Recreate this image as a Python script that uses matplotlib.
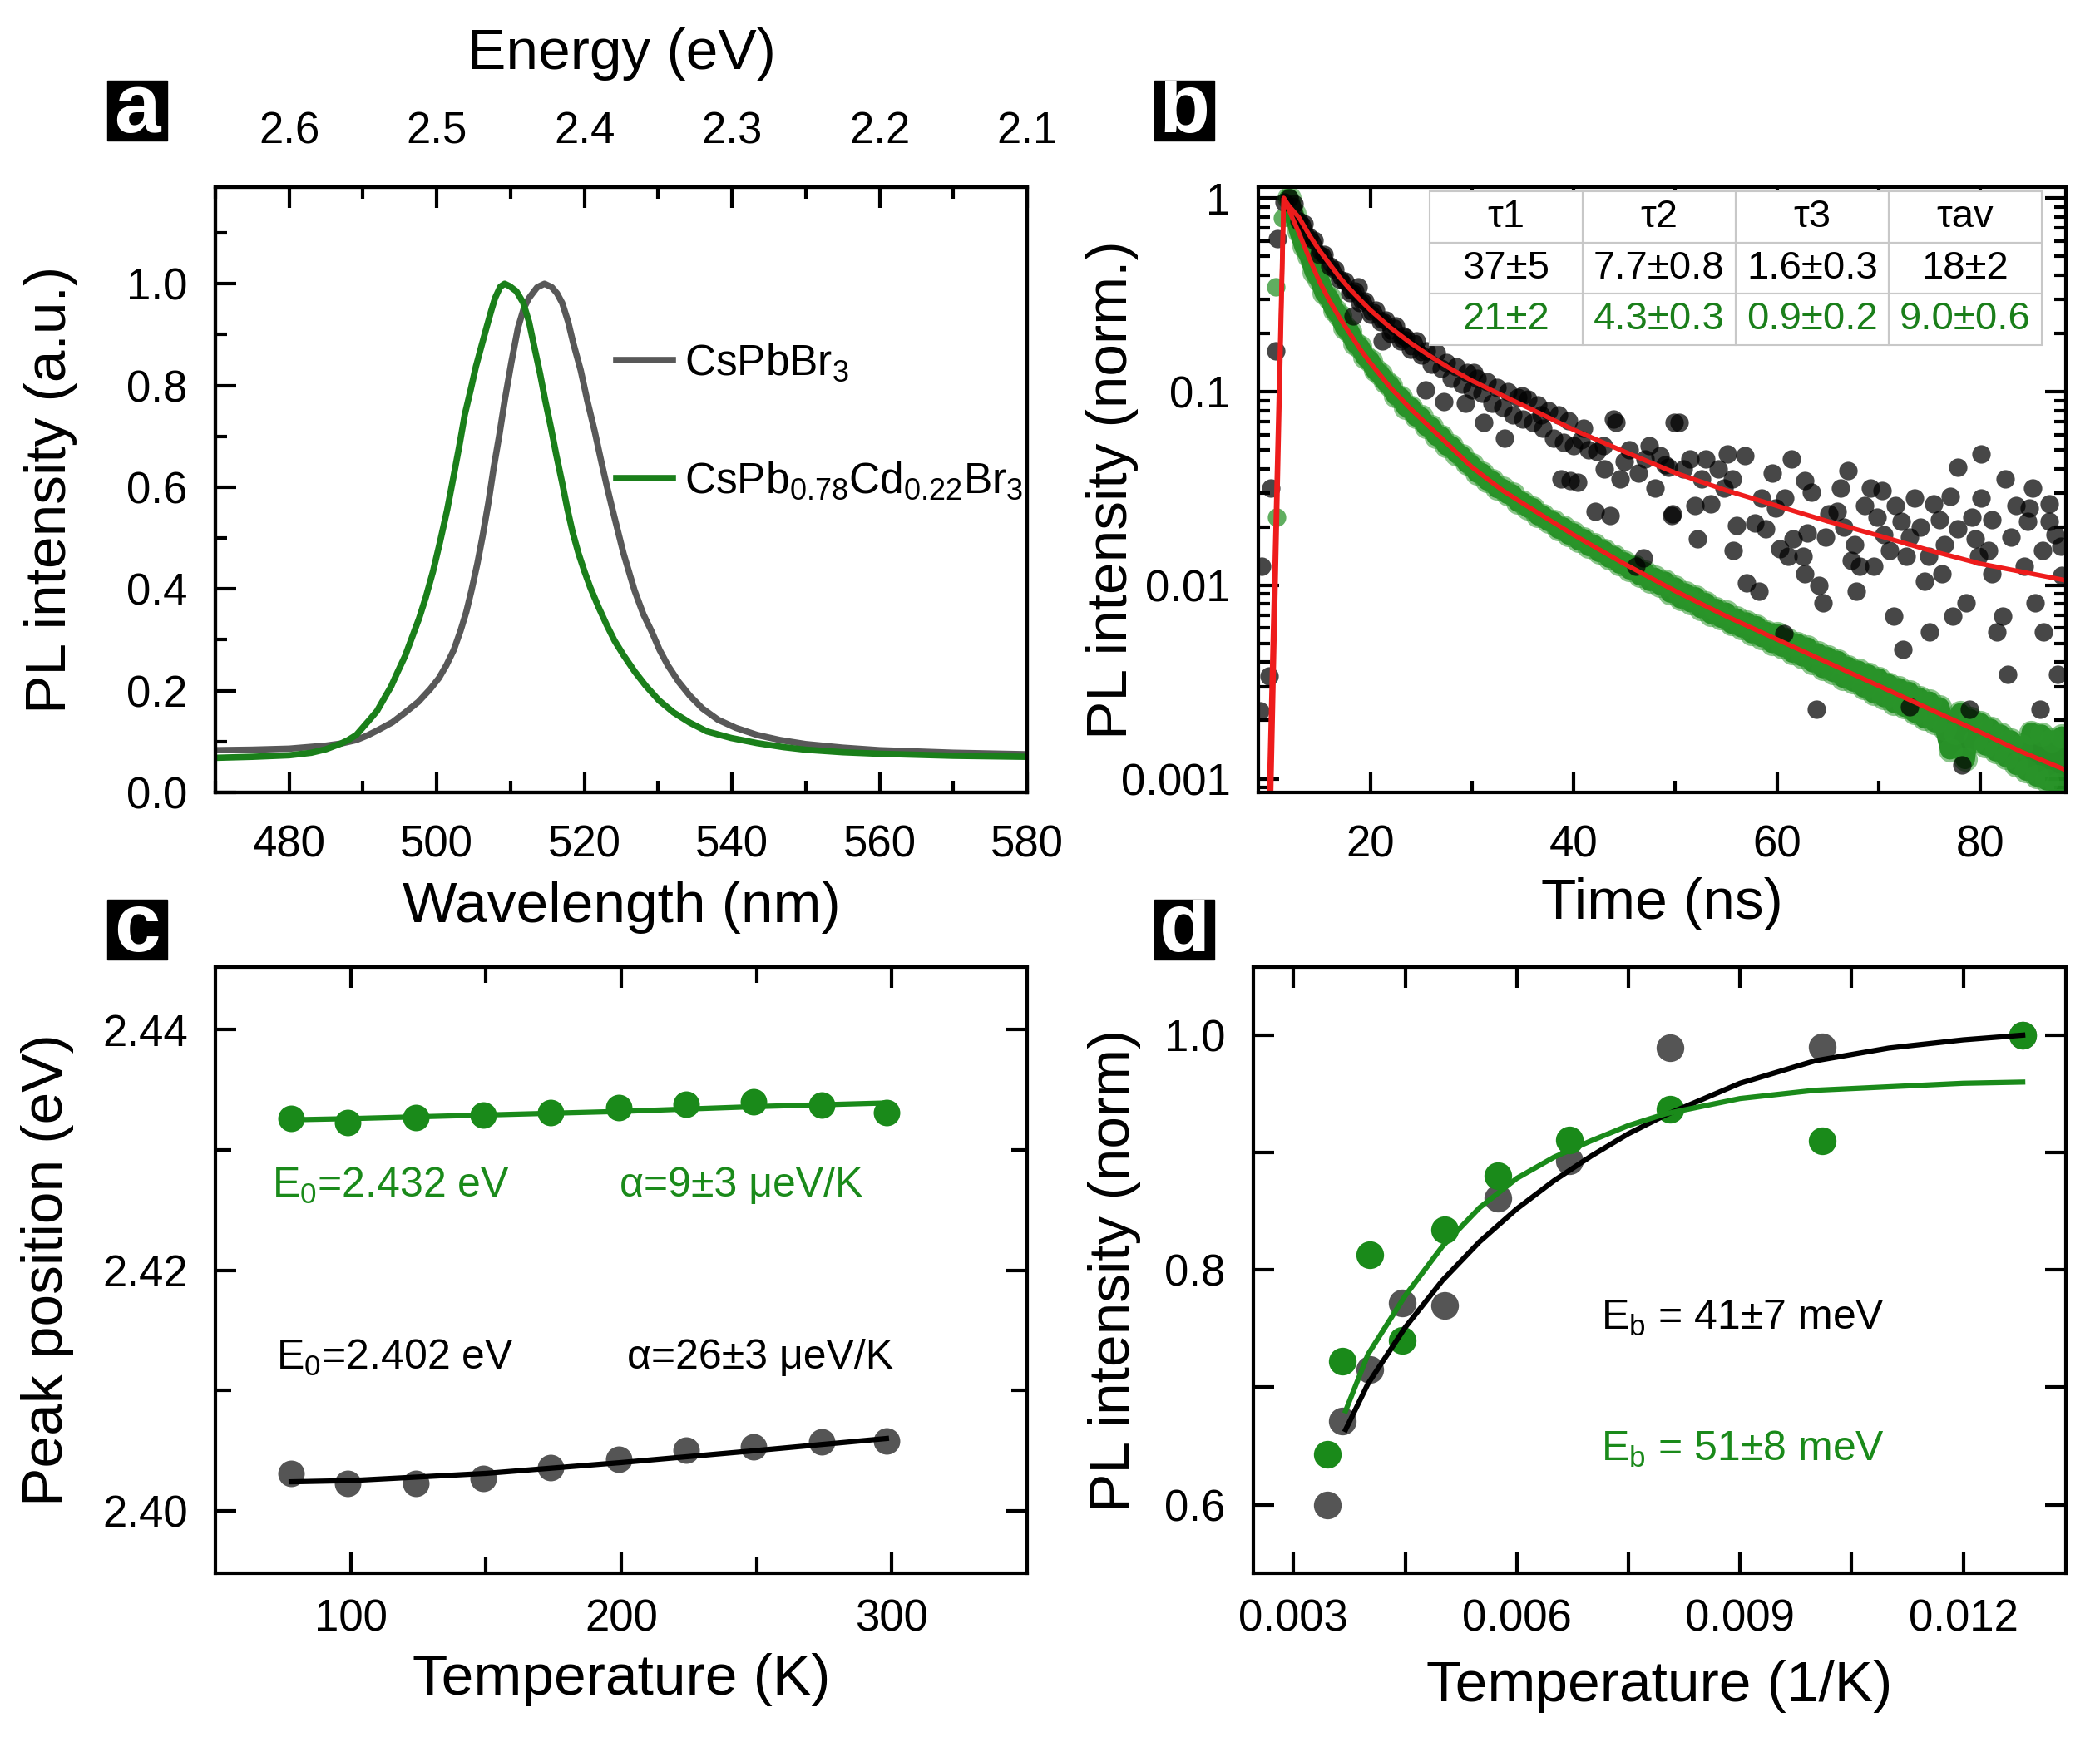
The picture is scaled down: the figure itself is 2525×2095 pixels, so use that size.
import numpy as np
import matplotlib
matplotlib.use("Agg")
import matplotlib.pyplot as plt
from matplotlib.ticker import MultipleLocator, FixedLocator, FixedFormatter, LogLocator, NullFormatter
from matplotlib.patches import Rectangle

plt.rcParams['font.family'] = ['Liberation Sans', 'DejaVu Sans']
plt.rcParams['mathtext.fontset'] = 'custom'
plt.rcParams['mathtext.rm'] = 'Liberation Sans'
plt.rcParams['mathtext.it'] = 'Liberation Sans:italic'
plt.rcParams['mathtext.default'] = 'regular'

GREEN = '#1a7f1a'
GRAY = '#585858'
RED = '#ee1c1c'

# ---------------- (a) PL spectra ----------------
wl_pure = [470, 475, 480, 485, 487, 489.1, 490.6, 492.1, 494.0, 495.7, 497.5, 499.1, 500.3, 501.3,
           502.3, 503.2, 504.0, 504.7, 505.5, 506.2, 507.0, 507.7, 508.5, 509.2, 510.1, 511.0,
           511.8, 512.5, 513.6, 514.6, 515.6, 516.3, 517.0, 517.8, 518.5, 519.5, 520.4, 521.4,
           522.3, 523.0, 523.8, 525.3, 526.8, 528.0, 529.1, 530.2, 531.3, 532.8, 534.3, 536.0,
           538.1, 540.5, 543.4, 546.5, 550, 555, 560, 570, 580]
pl_pure = [0.083, 0.084, 0.086, 0.092, 0.096, 0.103, 0.112, 0.123, 0.138, 0.157, 0.178, 0.203, 0.225, 0.25,
           0.28, 0.317, 0.355, 0.397, 0.45, 0.503, 0.57, 0.637, 0.705, 0.77, 0.845, 0.913,
           0.952, 0.972, 0.993, 1.0, 0.993, 0.981, 0.962, 0.925, 0.883, 0.83, 0.77, 0.71,
           0.65, 0.605, 0.557, 0.47, 0.397, 0.35, 0.317, 0.28, 0.25, 0.217, 0.19, 0.165,
           0.143, 0.127, 0.113, 0.103, 0.095, 0.088, 0.083, 0.078, 0.075]
wl_cd = [470, 475, 480, 483, 485, 487, 488, 489.1, 490.9, 491.9, 492.8, 493.8, 494.7, 495.7, 496.6,
         497.6, 498.5, 499.5, 500.4, 501.4, 502.3, 503.1, 503.8, 504.6, 505.3, 506.1, 506.8,
         507.4, 507.9, 508.6, 509.2, 509.9, 510.8, 511.7, 512.5, 513.2, 514.0, 514.7, 515.5,
         516.2, 517.0, 517.7, 518.4, 519.2, 520.0, 520.8, 521.9, 523.0, 524.1, 525.3, 526.8,
         528.3, 530.1, 532.1, 534.3, 536.6, 539.9, 543.4, 547, 550, 555, 560, 570, 580]
pl_cd = [0.068, 0.070, 0.073, 0.078, 0.085, 0.096, 0.103, 0.113, 0.143, 0.16, 0.183, 0.208, 0.237, 0.268, 0.303,
         0.342, 0.383, 0.435, 0.49, 0.555, 0.623, 0.685, 0.743, 0.792, 0.837, 0.88, 0.917,
         0.948, 0.972, 0.994, 1.0, 0.995, 0.985, 0.963, 0.925, 0.877, 0.823, 0.77, 0.715,
         0.663, 0.608, 0.557, 0.512, 0.47, 0.435, 0.403, 0.365, 0.33, 0.298, 0.27, 0.238,
         0.21, 0.181, 0.157, 0.137, 0.12, 0.107, 0.097, 0.089, 0.084, 0.079, 0.076, 0.072, 0.070]
wl_ticks = [480, 500, 520, 540, 560, 580]
energy_labels = ['2.6', '2.5', '2.4', '2.3', '2.2', '2.1']

# ---------------- (b) TRPL decays (log10 of normalized intensity) ----------------
green_t = np.arange(12.0, 88.5, 0.5)
green_log = [0.00, -0.08, -0.17, -0.25, -0.30, -0.38, -0.42, -0.49, -0.52, -0.58,
             -0.61, -0.67, -0.69, -0.75, -0.77, -0.82, -0.84, -0.89, -0.91, -0.95,
             -0.97, -1.02, -1.03, -1.08, -1.08, -1.13, -1.13, -1.18, -1.18, -1.23,
             -1.23, -1.28, -1.28, -1.32, -1.33, -1.37, -1.38, -1.42, -1.42, -1.46,
             -1.46, -1.50, -1.50, -1.53, -1.53, -1.57, -1.57, -1.60, -1.60, -1.64,
             -1.64, -1.67, -1.67, -1.71, -1.70, -1.74, -1.73, -1.77, -1.76, -1.80,
             -1.79, -1.83, -1.82, -1.86, -1.85, -1.89, -1.88, -1.92, -1.90, -1.95,
             -1.93, -1.98, -1.96, -2.00, -1.98, -2.04, -2.01, -2.07, -2.04, -2.09,
             -2.06, -2.12, -2.09, -2.15, -2.12, -2.17, -2.14, -2.20, -2.17, -2.22,
             -2.19, -2.25, -2.21, -2.27, -2.24, -2.30, -2.25, -2.32, -2.28, -2.35,
             -2.30, -2.37, -2.32, -2.40, -2.35, -2.43, -2.37, -2.45, -2.39, -2.48,
             -2.42, -2.50, -2.44, -2.53, -2.46, -2.56, -2.48, -2.58, -2.51, -2.61,
             -2.53, -2.63, -2.55, -2.66, -2.58, -2.69, -2.60, -2.71, -2.63, -2.74,
             -2.85, -2.76, -2.66, -2.90, -2.69, -2.80, -2.71, -2.83, -2.74, -2.86,
             -2.77, -2.89, -2.80, -2.93, -2.83, -2.96, -2.76, -2.99, -2.77, -3.01,
             -2.80, -3.03, -2.78]
green_rise_t = [10.7, 10.8, 11.4]
green_rise_log = [-0.46, -1.65, -0.10]

black_t_early = np.arange(12.5, 40.5, 0.5)
black_log_early = [-0.03, -0.12, -0.13, -0.20, -0.22, -0.29, -0.29, -0.35, -0.37, -0.42,
                   -0.43, -0.49, -0.48, -0.54, -0.53, -0.60, -0.58, -0.64, -0.63, -0.70,
                   -0.66, -0.74, -0.72, -0.78, -0.74, -0.81, -0.79, -0.86, -0.80, -0.88,
                   -0.85, -0.93, -0.87, -0.96, -0.90, -0.99, -0.93, -1.01, -0.95, -1.06,
                   -0.98, -1.08, -1.00, -1.12, -1.03, -1.14, -1.04, -1.16, -1.07, -1.19,
                   -1.10, -1.24, -1.12, -1.26, -1.15, -1.28]
black_t_late = [9.2, 9.35, 10.1, 10.2, 10.7, 10.9, 11.5, 12.0,
                18.3, 18.8, 21.2, 23.2, 25.4, 27.2, 29.4, 30.2, 31.2, 33.2, 34.9, 36.8, 38.8, 39.7,
                40.4, 40.7, 41.0, 41.5, 42.1, 42.3, 42.9, 43.0, 43.6, 43.9, 44.2, 44.6, 45.0, 45.5,
                46.1, 46.4, 46.9, 47.0, 47.4, 48.0, 48.5, 49.0, 49.3, 49.6, 49.9,
                50.4, 49.7, 51.4, 52.2, 53.0, 51.9, 53.5, 55.1, 56.8, 55.7, 56.0, 57.0, 58.2, 57.8,
                59.5, 58.9, 60.3, 61.4, 61.1, 61.6, 62.7, 63.4, 63.0, 62.6, 62.7, 64.1, 64.5, 63.9,
                65.1, 66.2, 67.0, 65.9, 67.6, 67.3, 67.8, 68.1, 69.5, 68.6, 69.2, 70.3, 70.5, 71.1,
                71.6, 71.5, 72.4, 72.2, 72.7, 73.5, 74.1, 74.5, 75.0, 74.9, 75.4, 76.2, 76.5, 77.0,
                77.3, 77.8, 77.8, 78.6, 78.9, 79.5, 79.2, 80.1, 80.1, 80.8, 81.1, 81.1, 81.6, 82.2,
                82.4, 82.7, 83.5, 84.3, 84.6, 85.1, 85.4, 85.9, 86.2, 86.1, 86.8, 86.8, 87.3, 87.6,
                78.2, 73.0, 60.7,
                50.8, 52.6, 54.2, 54.8, 55.6, 58.5, 59.9, 60.8, 64.8, 66.6, 69.8, 73.0, 76.0, 79.8,
                83.0, 84.8, 87.9, 88.0]
black_log_late = [-2.65, -1.90, -2.47, -1.50, -0.79, -0.21, -0.02, 0.0,
                  -0.61, -0.46, -0.74, -0.71, -0.99, -1.05, -1.06, -0.90, -1.16, -1.24, -1.02, -1.12, -1.45, -1.46,
                  -1.47, -1.25, -1.19, -1.30, -1.62, -1.31, -1.28, -1.40, -1.64, -1.14, -1.16, -1.45, -1.36, -1.30,
                  -1.90, -1.42, -1.86, -1.35, -1.28, -1.50, -1.33, -1.38, -1.39, -1.64, -1.16,
                  -1.16, -1.63, -1.35, -1.76, -1.35, -1.59, -1.58, -1.32, -1.33, -1.82, -1.69, -1.99, -2.03, -1.68,
                  -1.42, -1.71, -1.81, -1.35, -1.85, -1.76, -1.46, -1.52, -1.73, -1.85, -1.94, -2.00, -2.09, -2.64,
                  -1.63, -1.50, -1.41, -1.62, -1.79, -1.87, -2.03, -1.90, -1.90, -1.59, -1.50, -1.51, -1.74, -1.82,
                  -1.59, -2.16, -2.33, -1.67, -1.85, -1.55, -1.70, -1.98, -2.24, -1.85, -1.58, -1.94, -1.79, -1.54,
                  -2.16, -1.39, -1.71, -2.09, -2.64, -1.76, -1.65, -1.32, -1.55, -1.82, -1.66, -1.94, -2.24, -2.16,
                  -1.45, -2.46, -1.59, -1.90, -1.67, -1.50, -2.09, -2.64, -2.24, -1.82, -1.58, -1.67, -1.74, -2.46,
                  -2.93, -2.63, -2.25,
                  -1.40, -1.45, -1.40, -1.50, -1.45, -1.55, -1.60, -1.55, -1.75, -1.70, -1.65, -1.75, -1.66, -1.85,
                  -1.75, -1.60, -1.80, -1.95]

fit_black_t = [10.0, 11.5, 12, 13, 14, 15, 16, 17, 18, 19, 20, 22, 24, 26, 28, 30, 33, 36, 40,
               45, 50, 55, 60, 65, 70, 75, 80, 84, 88.4]
fit_black_log = [-3.2, 0.0, -0.04, -0.10, -0.19, -0.27, -0.34, -0.41, -0.47, -0.525, -0.578, -0.67,
                 -0.75, -0.82, -0.885, -0.943, -1.02, -1.095, -1.197, -1.31, -1.42, -1.51, -1.59,
                 -1.67, -1.744, -1.82, -1.889, -1.93, -1.975]
fit_green_t = [10.2, 11.5, 12, 13, 14, 15, 16, 17, 18, 19, 20, 22, 24, 26, 28, 30, 33, 36, 40,
               45, 50, 55, 60, 65, 70, 75, 80, 84, 88.4]
fit_green_log = [-3.2, 0.0, -0.06, -0.18, -0.31, -0.43, -0.53, -0.62, -0.70, -0.78, -0.85, -0.98,
                 -1.09, -1.19, -1.29, -1.39, -1.51, -1.61, -1.74, -1.89, -2.03, -2.16, -2.28,
                 -2.40, -2.52, -2.64, -2.76, -2.86, -2.955]

tau_labels = ['\u03c41', '\u03c42', '\u03c43', '\u03c4av']
tau_pure = ['37\u00b15', '7.7\u00b10.8', '1.6\u00b10.3', '18\u00b12']
tau_cd = ['21\u00b12', '4.3\u00b10.3', '0.9\u00b10.2', '9.0\u00b10.6']

# ---------------- (c) peak position vs T ----------------
temp_k = [78, 99, 124, 149, 174, 199, 224, 249, 274, 298]
peak_pure = [2.4031, 2.4023, 2.4023, 2.4027, 2.4036, 2.4043, 2.4050, 2.4053, 2.4057, 2.4058]
peak_cd = [2.4326, 2.4323, 2.4327, 2.4329, 2.4331, 2.4335, 2.4338, 2.4340, 2.4337, 2.4331]
fit_temp = [78, 100, 150, 200, 250, 298]
fit_peak_pure = [2.4024, 2.4025, 2.4031, 2.4040, 2.4050, 2.4060]
fit_peak_cd = [2.4325, 2.4326, 2.4329, 2.4332, 2.4336, 2.4339]

# ---------------- (d) integrated PL vs 1/T ----------------
inv_t = [0.00345, 0.00366, 0.00402, 0.00446, 0.00503, 0.00575, 0.00671, 0.00806, 0.0101, 0.0128]
int_pure = [0.600, 0.671, 0.715, 0.772, 0.770, 0.861, 0.893, 0.989, 0.990, 1.000]
int_cd = [0.643, 0.722, 0.813, 0.740, 0.834, 0.880, 0.911, 0.937, 0.910, 1.000]
fit_inv_t = [0.0037, 0.004, 0.0045, 0.005, 0.0055, 0.006, 0.0065, 0.007, 0.0075, 0.008, 0.009,
             0.010, 0.011, 0.012, 0.0128]
fit_int_pure = [0.664, 0.703, 0.751, 0.791, 0.824, 0.852, 0.876, 0.897, 0.916, 0.932, 0.959,
                0.978, 0.989, 0.996, 1.0]
fit_int_cd = [0.680, 0.728, 0.778, 0.820, 0.853, 0.878, 0.896, 0.910, 0.923, 0.933, 0.946,
              0.953, 0.956, 0.959, 0.960]

W, H = 2525, 2095
fig = plt.figure(figsize=(W / 100, H / 100), dpi=100)

TICK_FS = 38
LABEL_FS = 50
TEXT_FS = 36


def box(x0, y0, w, h):
    return [x0 / W, 1 - (y0 + h) / H, w / W, h / H]


def style(ax, pad=24):
    for s in ax.spines.values():
        s.set_linewidth(3)
    ax.tick_params(which='both', direction='in', width=3, labelsize=TICK_FS, pad=pad)
    ax.tick_params(which='major', length=18)
    ax.tick_params(which='minor', length=10)


ax_a = fig.add_axes(box(259, 225, 976, 728))
ax_b = fig.add_axes(box(1513, 225, 971, 728))
ax_c = fig.add_axes(box(259, 1163, 976, 729))
ax_d = fig.add_axes(box(1507, 1163, 977, 729))

# ---- a ----
ax_a.plot(wl_pure, pl_pure, color=GRAY, lw=5.5, label='CsPbBr$_3$')
ax_a.plot(wl_cd, pl_cd, color=GREEN, lw=5.5, label='CsPb$_{0.78}$Cd$_{0.22}$Br$_3$')
ax_a.set_xlim(470, 580)
ax_a.set_ylim(0, 1.19)
ax_a.xaxis.set_major_locator(FixedLocator(wl_ticks))
ax_a.xaxis.set_minor_locator(MultipleLocator(10))
ax_a.yaxis.set_major_locator(MultipleLocator(0.2))
ax_a.yaxis.set_minor_locator(MultipleLocator(0.1))
ax_a.yaxis.set_major_formatter(matplotlib.ticker.FormatStrFormatter('%.1f'))
style(ax_a)
ax_a.tick_params(axis='x', pad=28)
ax_a.tick_params(which='both', right=False, top=False)
ax_a.set_xlabel('Wavelength (nm)', fontsize=LABEL_FS)
ax_a.set_ylabel('PL intensity (a.u.)', fontsize=LABEL_FS)
ax_a.xaxis.set_label_coords(0.5, -0.145)
ax_a.yaxis.set_label_coords(-0.17, 0.5)
ax_a.legend(loc='upper left', bbox_to_anchor=(0.494, 0.743), frameon=False, fontsize=37,
            handlelength=1.33, handletextpad=0.27, labelspacing=1.8, borderpad=0, borderaxespad=0)

ax_top = ax_a.twiny()
ax_top.set_xlim(470, 580)
ax_top.xaxis.set_major_locator(FixedLocator(wl_ticks))
ax_top.xaxis.set_major_formatter(FixedFormatter(energy_labels))
ax_top.xaxis.set_minor_locator(MultipleLocator(10))
style(ax_top)
ax_top.tick_params(axis='x', pad=30)
ax_top.set_xlabel('Energy (eV)', fontsize=LABEL_FS, labelpad=36)

# ---- b ----
green_i = 10 ** np.array(green_log)
black_i_early = 10 ** np.array(black_log_early)
# dense sampling: overlapping points merge into a band
ax_b.plot(green_t, green_i, '-', color='#138313', alpha=0.92, lw=17, solid_joinstyle='round',
          solid_capstyle='round')
ax_b.plot(green_t, green_i, 'o', color='#2a962a', alpha=0.55, ms=21, mec='none')
ax_b.plot(green_rise_t, 10 ** np.array(green_rise_log), 'o', color='#1c8c1c', alpha=0.7, ms=16, mec='none')
ax_b.plot(black_t_early[:26], black_i_early[:26], '-', color='#111111', alpha=0.8, lw=11,
          solid_joinstyle='round', solid_capstyle='round')
ax_b.plot(black_t_early, black_i_early, 'o', color='black', alpha=0.72, ms=16, mec='none')
ax_b.plot(black_t_late, 10 ** np.array(black_log_late), 'o', color='black', alpha=0.72, ms=16, mec='none')
ax_b.plot(fit_black_t, 10 ** np.array(fit_black_log), color=RED, lw=4)
ax_b.plot(fit_green_t, 10 ** np.array(fit_green_log), color=RED, lw=4)
ax_b.set_yscale('log')
ax_b.set_xlim(9.0, 88.4)
ax_b.set_ylim(8.5e-4, 1.14)
ax_b.xaxis.set_major_locator(MultipleLocator(20))
ax_b.xaxis.set_minor_locator(FixedLocator([30, 50, 70]))
ax_b.yaxis.set_major_locator(FixedLocator([0.001, 0.01, 0.1, 1]))
ax_b.yaxis.set_major_formatter(FixedFormatter(['0.001', '0.01', '0.1', '1']))
ax_b.yaxis.set_minor_locator(LogLocator(base=10, subs=np.arange(2, 10)))
ax_b.yaxis.set_minor_formatter(NullFormatter())
style(ax_b, pad=24)
ax_b.tick_params(axis='x', pad=28)
ax_b.tick_params(which='both', top=True, right=True)
ax_b.set_xlabel('Time (ns)', fontsize=LABEL_FS)
ax_b.set_ylabel('PL intensity (norm.)', fontsize=LABEL_FS)
ax_b.xaxis.set_label_coords(0.5, -0.14)
ax_b.yaxis.set_label_coords(-0.148, 0.5)

tab = ax_b.table(cellText=[tau_pure, tau_cd], colLabels=tau_labels, cellLoc='center',
                 bbox=[0.212, 0.739, 0.758, 0.254], zorder=5)
tab.auto_set_font_size(False)
tab.set_fontsize(34)
for (r, c), cell in tab.get_celld().items():
    cell.set_edgecolor('#c8c8c8')
    cell.set_linewidth(1.5)
    cell.set_facecolor('white')
    if r == 2:
        cell.get_text().set_color(GREEN)

# ---- c ----
ax_c.plot(temp_k, peak_pure, 'o', color='#555555', ms=23, mec='none')
ax_c.plot(fit_temp, fit_peak_pure, color='black', lw=4.5)
ax_c.plot(temp_k, peak_cd, 'o', color='#1a8a1a', ms=23, mec='none')
ax_c.plot(fit_temp, fit_peak_cd, color='#1a8a1a', lw=4.5)
ax_c.set_xlim(50, 350)
ax_c.set_ylim(2.3948, 2.4452)
ax_c.xaxis.set_major_locator(FixedLocator([100, 200, 300]))
ax_c.xaxis.set_minor_locator(FixedLocator([150, 250]))
ax_c.yaxis.set_major_locator(FixedLocator([2.40, 2.42, 2.44]))
ax_c.yaxis.set_major_formatter(matplotlib.ticker.FormatStrFormatter('%.2f'))
ax_c.yaxis.set_minor_locator(FixedLocator([2.41, 2.43]))
style(ax_c)
ax_c.tick_params(which='both', top=True, right=True)
ax_c.tick_params(which='minor', length=14)
ax_c.tick_params(axis='x', pad=22)
ax_c.set_xlabel('Temperature (K)', fontsize=LABEL_FS)
ax_c.set_ylabel('Peak position (eV)', fontsize=LABEL_FS)
ax_c.xaxis.set_label_coords(0.5, -0.132)
ax_c.yaxis.set_label_coords(-0.174, 0.5)
ax_c.text(71, 2.427, 'E$_0$=2.432 eV', color='#1a8a1a', fontsize=TEXT_FS, va='center')
ax_c.text(199.5, 2.427, '\u03b1=9\u00b13 \u03bceV/K', color='#1a8a1a', fontsize=TEXT_FS, va='center')
ax_c.text(72.5, 2.4127, 'E$_0$=2.402 eV', color='black', fontsize=TEXT_FS, va='center')
ax_c.text(202, 2.4127, '\u03b1=26\u00b13 \u03bceV/K', color='black', fontsize=TEXT_FS, va='center')

# ---- d ----
ax_d.plot(inv_t, int_pure, 'o', color='#555555', ms=24, mec='none')
ax_d.plot(inv_t, int_cd, 'o', color='#1a8a1a', ms=24, mec='none')
ax_d.plot(fit_inv_t, fit_int_pure, color='black', lw=4.5)
ax_d.plot(fit_inv_t, fit_int_cd, color='#1a8a1a', lw=4.5)
ax_d.set_xlim(0.00246, 0.01338)
ax_d.set_ylim(0.5417, 1.058)
ax_d.xaxis.set_major_locator(FixedLocator([0.003, 0.006, 0.009, 0.012]))
ax_d.xaxis.set_major_formatter(matplotlib.ticker.FormatStrFormatter('%.3f'))
ax_d.xaxis.set_minor_locator(FixedLocator([0.0045, 0.0075, 0.0105]))
ax_d.yaxis.set_major_locator(FixedLocator([0.6, 0.8, 1.0]))
ax_d.yaxis.set_major_formatter(matplotlib.ticker.FormatStrFormatter('%.1f'))
ax_d.yaxis.set_minor_locator(FixedLocator([0.7, 0.9]))
style(ax_d)
ax_d.tick_params(which='both', top=True, right=True)
ax_d.tick_params(which='minor', length=18)
ax_d.tick_params(axis='x', pad=22)
ax_d.set_xlabel('Temperature (1/K)', fontsize=LABEL_FS)
ax_d.set_ylabel('PL intensity (norm)', fontsize=LABEL_FS)
ax_d.xaxis.set_label_coords(0.5, -0.143)
ax_d.yaxis.set_label_coords(-0.138, 0.5)
ax_d.text(0.00713, 0.759, 'E$_b$ = 41\u00b17 meV', color='black', fontsize=TEXT_FS, va='center')
ax_d.text(0.00713, 0.647, 'E$_b$ = 51\u00b18 meV', color='#1a8a1a', fontsize=TEXT_FS, va='center')

# panel letters
for letter, x0, y0 in [('a', 129, 97), ('b', 1388, 97), ('c', 129, 1082), ('d', 1388, 1082)]:
    rect = Rectangle((x0 / W, 1 - (y0 + 72) / H), 72 / W, 72 / H, transform=fig.transFigure,
                     color='black')
    fig.add_artist(rect)
    t = fig.text((x0 + 36) / W, 1 - (y0 + 36) / H, letter, color='white', fontsize=72,
                 fontweight='bold', ha='center', va='center')
    t.set_clip_path(rect)

fig.savefig('out.png', dpi=100)
